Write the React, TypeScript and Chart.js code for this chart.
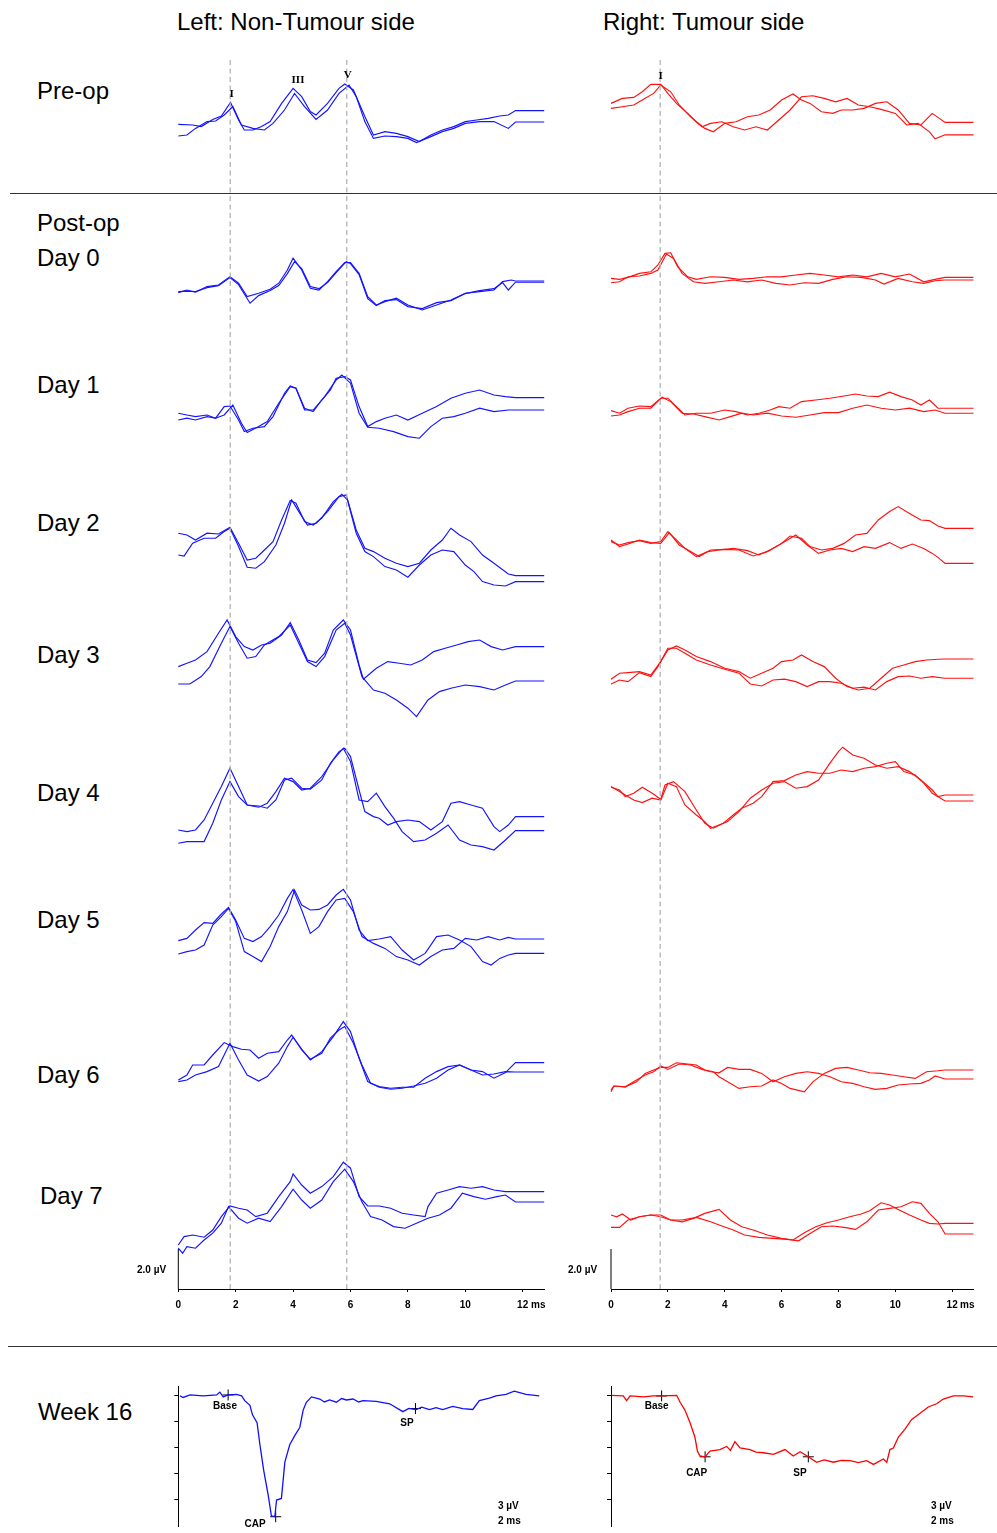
import React, { useEffect, useRef } from "react";
import { Chart, registerables } from "chart.js";
Chart.register(...registerables);

type Pair = [number, number];

// ---------- axes / common values ----------
const X_END = 12.75; // ms, end of the flat tail of every trace
const xTicks = [0, 2, 4, 6, 8, 10, 12];
const Y_MAX = 61.95; // µV (stacked rows, 0 at the time axis)
const DASH_TOP = 61.45;
const SCALE_UV = 2.0;
const leftPeakTimes = [1.81, 5.87]; // waves I and V
const rightPeakTimes = [1.73]; // wave I
const W_MIN = -15.1;
const W_MAX = 1.09;
const wTicks = [0, -3, -6, -9, -12];

// row baselines (µV offsets) : Pre-op, Day0..Day7
const leftBase: (number | null)[] = [58.25, 50.37, 43.62, 35.67, 32.12, 23.62, 17.5, 11.32, 4.87];
const rightBase: (number | null)[] = [58.33, 50.53, 43.92, 37.2, 31.12, 24.62, null, 10.78, 3.28];

// ---------- LEFT (non-tumour side) traces, [ms, µV] ----------
const LPreA: Pair[] = [[0,-0.02],[0.5,-0.05],[0.8,-0.13],[1.2,0.23],[1.5,0.4],[1.82,1.08],[2.1,0.2],[2.3,-0.3],[2.6,-0.3],[2.9,-0.13],[3.2,0.12],[3.6,1.03],[4.0,1.78],[4.3,1.37],[4.6,0.62],[4.8,0.45],[5.2,1.03],[5.6,1.78],[5.8,2.0],[6.1,1.7],[6.5,0.37],[6.8,-0.55],[7.2,-0.38],[7.6,-0.47],[8.0,-0.63],[8.4,-0.88],[8.8,-0.55],[9.2,-0.3],[9.6,-0.13],[10.0,0.12],[10.4,0.2],[10.8,0.28],[11.2,0.4],[11.5,0.45],[11.75,0.67]];
const LPreB: Pair[] = [[0,-0.6],[0.3,-0.55],[0.6,-0.22],[1.0,0.12],[1.3,0.15],[1.6,0.45],[1.9,0.87],[2.2,-0.05],[2.6,-0.22],[3.0,-0.3],[3.3,0.03],[3.7,0.7],[4.05,1.53],[4.4,0.87],[4.8,0.23],[5.2,0.7],[5.6,1.53],[5.95,1.95],[6.2,1.37],[6.5,0.12],[6.8,-0.72],[7.2,-0.6],[7.6,-0.63],[8.0,-0.72],[8.3,-0.93],[8.8,-0.63],[9.2,-0.38],[9.6,-0.22],[10.0,0.03],[10.5,0.12],[11.0,0.12],[11.5,-0.22],[11.75,0.1]];
const L0A: Pair[] = [[0,-0.55],[0.3,-0.42],[0.6,-0.53],[1.0,-0.25],[1.4,-0.17],[1.8,0.25],[2.1,-0.08],[2.4,-0.75],[2.8,-0.58],[3.2,-0.38],[3.5,-0.08],[3.8,0.58],[4.0,1.17],[4.3,0.58],[4.6,-0.33],[4.9,-0.42],[5.2,0],[5.5,0.5],[5.8,0.95],[6.0,0.95],[6.3,0.42],[6.6,-0.75],[6.9,-1.17],[7.2,-1.0],[7.6,-0.83],[8.0,-1.17],[8.5,-1.42],[9.0,-1.17],[9.5,-0.92],[10.0,-0.58],[10.5,-0.5],[11.0,-0.42],[11.3,0],[11.6,0.08],[11.75,0.03]];
const L0B: Pair[] = [[0,-0.5],[0.3,-0.48],[0.6,-0.5],[1.0,-0.3],[1.4,-0.2],[1.8,0.2],[2.1,-0.15],[2.5,-1.08],[2.8,-0.7],[3.2,-0.45],[3.5,-0.2],[3.8,0.4],[4.05,1.0],[4.3,0.65],[4.6,-0.25],[4.9,-0.35],[5.2,-0.05],[5.5,0.45],[5.85,1.0],[6.0,0.9],[6.3,0.35],[6.6,-0.85],[6.9,-1.2],[7.2,-0.95],[7.6,-0.9],[8.0,-1.25],[8.5,-1.35],[9.0,-1.05],[9.5,-0.95],[10.0,-0.6],[10.5,-0.45],[11.0,-0.35],[11.3,-0.05],[11.5,-0.42],[11.75,-0.03]];
const L1A: Pair[] = [[0,0.17],[0.3,0.08],[0.6,0],[1.0,0.08],[1.3,-0.08],[1.6,0.5],[1.8,0.53],[2.1,-0.17],[2.3,-0.75],[2.6,-0.58],[3.0,-0.5],[3.3,0],[3.7,1.17],[3.9,1.53],[4.1,1.42],[4.4,0.42],[4.7,0.25],[5.0,0.83],[5.3,1.33],[5.5,1.92],[5.8,2.0],[6.0,1.83],[6.3,0.5],[6.6,-0.5],[6.9,-0.25],[7.2,-0.08],[7.6,0.08],[8.0,-0.17],[8.5,0.17],[9.0,0.5],[9.5,0.92],[10.0,1.17],[10.5,1.33],[11.0,1.08],[11.4,1.0],[11.75,0.95]];
const L1B: Pair[] = [[0,-0.17],[0.3,-0.08],[0.6,-0.17],[1.0,0],[1.3,-0.08],[1.6,0.08],[1.9,0.58],[2.2,-0.33],[2.4,-0.8],[2.8,-0.5],[3.1,-0.25],[3.5,0.67],[3.9,1.5],[4.1,1.42],[4.4,0.33],[4.7,0.33],[5.1,1.0],[5.5,1.83],[5.7,2.08],[6.0,1.67],[6.3,0.17],[6.6,-0.53],[7.0,-0.58],[7.5,-0.75],[8.0,-1.0],[8.4,-1.08],[8.8,-0.5],[9.2,-0.08],[9.6,0],[10.0,0.17],[10.5,0.42],[11.0,0.25],[11.5,0.33],[11.75,0.33]];
const L2A: Pair[] = [[0,2.12],[0.3,2.03],[0.6,1.78],[1.0,2.12],[1.4,2.08],[1.8,2.42],[2.1,1.62],[2.4,0.78],[2.7,0.87],[3.0,1.28],[3.3,1.7],[3.6,2.78],[3.9,3.75],[4.1,3.62],[4.4,2.7],[4.7,2.53],[5.0,2.87],[5.4,3.7],[5.7,4.07],[5.9,3.78],[6.2,2.28],[6.5,1.37],[6.8,1.2],[7.2,0.87],[7.6,0.62],[8.0,0.45],[8.4,0.62],[8.8,1.28],[9.2,1.78],[9.5,2.37],[9.8,2.03],[10.2,1.7],[10.6,1.03],[11.0,0.62],[11.5,0.08],[11.75,0]];
const L2B: Pair[] = [[0,1.03],[0.2,0.98],[0.5,1.62],[0.9,1.87],[1.3,1.87],[1.6,2.2],[1.8,2.37],[2.1,1.45],[2.4,0.42],[2.7,0.37],[3.0,0.7],[3.4,1.53],[3.7,2.62],[3.95,3.78],[4.2,3.2],[4.5,2.53],[4.8,2.62],[5.2,3.2],[5.6,3.95],[5.85,4.03],[6.2,2.12],[6.5,1.2],[6.8,0.95],[7.2,0.45],[7.6,0.28],[8.0,-0.08],[8.4,0.53],[8.8,1.03],[9.2,1.28],[9.6,1.2],[10.0,0.53],[10.3,0.2],[10.6,-0.3],[11.0,-0.47],[11.4,-0.52],[11.75,-0.3]];
const L3A: Pair[] = [[0,-1.0],[0.3,-0.83],[0.6,-0.67],[1.0,-0.25],[1.4,0.67],[1.7,1.33],[2.0,0.5],[2.3,0],[2.6,-0.17],[2.9,0.08],[3.2,0.17],[3.6,0.58],[3.9,1.2],[4.2,0.33],[4.5,-0.67],[4.8,-0.8],[5.1,-0.33],[5.4,0.83],[5.75,1.33],[6.0,0.83],[6.3,-0.92],[6.45,-1.63],[6.9,-1.08],[7.3,-0.75],[7.7,-0.83],[8.1,-0.92],[8.5,-0.67],[8.9,-0.25],[9.3,-0.08],[9.7,0.08],[10.1,0.25],[10.5,0.33],[10.9,0],[11.3,-0.17],[11.75,0]];
const L3B: Pair[] = [[0,-1.87],[0.4,-1.87],[0.8,-1.5],[1.1,-1.0],[1.5,0.17],[1.8,1.0],[2.1,0.17],[2.4,-0.58],[2.7,-0.5],[3.0,0.08],[3.5,0.5],[3.9,1.08],[4.2,0.17],[4.5,-0.75],[4.8,-1.0],[5.1,-0.5],[5.5,0.83],[5.8,1.17],[6.0,0.58],[6.4,-1.5],[6.8,-2.17],[7.2,-2.33],[7.6,-2.67],[8.0,-3.08],[8.3,-3.5],[8.7,-2.67],[9.1,-2.25],[9.5,-2.08],[10.0,-1.92],[10.5,-2.0],[11.0,-2.17],[11.4,-1.92],[11.75,-1.72]];
const L4A: Pair[] = [[0,-0.67],[0.3,-0.75],[0.6,-0.67],[0.9,-0.17],[1.2,0.67],[1.5,1.5],[1.8,2.42],[2.1,1.5],[2.4,0.58],[2.8,0.53],[3.1,0.42],[3.4,0.83],[3.7,1.83],[3.95,1.92],[4.3,1.42],[4.6,1.37],[5.0,1.83],[5.3,2.67],[5.6,3.25],[5.8,3.42],[6.0,3.0],[6.3,1.33],[6.5,0.25],[6.8,0],[7.0,-0.08],[7.3,-0.42],[7.6,-0.25],[8.0,-0.17],[8.4,-0.25],[8.8,-0.67],[9.2,-0.25],[9.5,0.67],[9.8,0.75],[10.2,0.58],[10.6,0.42],[11.0,-0.5],[11.2,-0.75],[11.5,-0.42],[11.75,0]];
const L4B: Pair[] = [[0,-1.33],[0.3,-1.25],[0.6,-1.25],[0.9,-1.25],[1.2,-0.33],[1.5,0.83],[1.8,1.75],[2.1,1.0],[2.4,0.58],[2.8,0.47],[3.1,0.67],[3.4,1.25],[3.7,1.92],[4.0,1.75],[4.3,1.33],[4.6,1.42],[5.0,2.0],[5.4,2.83],[5.75,3.42],[6.0,2.75],[6.3,0.83],[6.6,0.75],[6.9,1.17],[7.2,0.5],[7.5,-0.08],[7.8,-0.75],[8.2,-1.25],[8.6,-1.17],[9.0,-0.83],[9.4,-0.42],[9.8,-1.17],[10.2,-1.42],[10.6,-1.5],[11.0,-1.67],[11.4,-1.17],[11.75,-0.7]];
const L5A: Pair[] = [[0,-0.08],[0.3,0.03],[0.6,0.45],[0.9,0.82],[1.2,0.78],[1.5,1.25],[1.75,1.58],[2.0,0.95],[2.3,0.03],[2.6,-0.13],[2.9,0.12],[3.2,0.62],[3.5,1.2],[3.8,2.03],[4.0,2.48],[4.3,1.45],[4.6,0.28],[4.9,0.62],[5.2,1.37],[5.5,1.95],[5.8,2.03],[6.1,1.37],[6.4,0.12],[6.8,-0.22],[7.2,-0.47],[7.6,-0.88],[8.0,-1.05],[8.4,-1.3],[8.8,-0.88],[9.2,-0.55],[9.6,-0.47],[10.0,0.03],[10.4,-0.05],[10.8,0.12],[11.2,-0.05],[11.5,0.08],[11.75,0]];
const L5B: Pair[] = [[0,-0.75],[0.3,-0.63],[0.6,-0.55],[0.9,-0.3],[1.2,0.7],[1.5,1.12],[1.75,1.53],[2.0,0.87],[2.3,-0.63],[2.6,-0.88],[2.9,-1.13],[3.2,-0.38],[3.5,0.62],[3.8,1.37],[4.05,2.45],[4.3,1.7],[4.6,1.45],[4.9,1.48],[5.2,1.7],[5.5,2.2],[5.75,2.48],[6.0,1.95],[6.3,0.45],[6.6,-0.08],[7.0,0],[7.4,0.12],[7.8,-0.55],[8.2,-1.05],[8.6,-0.72],[9.0,0.12],[9.4,0.2],[9.8,-0.05],[10.2,-0.38],[10.6,-1.13],[10.9,-1.3],[11.2,-0.97],[11.5,-0.8],[11.75,-0.72]];
const L6A: Pair[] = [[0,-0.87],[0.3,-0.62],[0.5,-0.12],[0.9,-0.12],[1.2,0.38],[1.6,1.0],[1.9,0.8],[2.2,0.67],[2.5,0.63],[2.8,0.22],[3.1,0.47],[3.5,0.55],[3.8,1.13],[3.95,1.38],[4.3,0.63],[4.6,0.17],[5.0,0.47],[5.3,1.22],[5.6,1.63],[5.8,1.8],[6.1,0.97],[6.4,-0.12],[6.7,-1.03],[7.0,-1.2],[7.4,-1.28],[7.8,-1.23],[8.2,-1.23],[8.6,-0.78],[9.0,-0.45],[9.4,-0.2],[9.8,-0.12],[10.2,-0.37],[10.6,-0.45],[11.0,-0.78],[11.4,-0.5],[11.75,0]];
const L6B: Pair[] = [[0,-0.95],[0.3,-0.87],[0.6,-0.62],[1.0,-0.45],[1.4,-0.2],[1.8,0.97],[2.1,0.13],[2.4,-0.62],[2.8,-0.92],[3.1,-0.7],[3.5,-0.03],[3.8,0.8],[4.0,1.27],[4.3,0.68],[4.6,0.13],[5.0,0.55],[5.4,1.3],[5.75,2.05],[6.0,1.55],[6.3,0.22],[6.6,-0.95],[7.0,-1.23],[7.4,-1.33],[7.8,-1.28],[8.2,-1.17],[8.6,-1.03],[9.0,-0.78],[9.4,-0.37],[9.8,-0.12],[10.2,-0.37],[10.6,-0.62],[11.0,-0.57],[11.4,-0.45],[11.75,-0.47]];
const L7A: Pair[] = [[0,-2.67],[0.2,-2.25],[0.5,-2.17],[0.9,-2.28],[1.2,-1.92],[1.5,-1.25],[1.8,-0.72],[2.1,-0.83],[2.4,-0.92],[2.7,-1.25],[3.1,-1.08],[3.5,-0.25],[3.9,0.5],[4.0,0.88],[4.3,0.33],[4.6,-0.08],[5.0,0.25],[5.4,0.75],[5.75,1.47],[6.0,1.17],[6.3,-0.25],[6.6,-0.72],[7.0,-0.72],[7.4,-0.83],[7.8,-1.08],[8.2,-1.17],[8.6,-1.25],[8.7,-0.75],[9.0,-0.08],[9.4,0.08],[9.8,0.25],[10.2,0.17],[10.6,0.25],[11.0,0.08],[11.4,0],[11.75,0]];
const L7B: Pair[] = [[0,-2.83],[0.15,-3.08],[0.3,-2.75],[0.6,-2.83],[0.9,-2.42],[1.2,-2.08],[1.5,-1.58],[1.75,-0.75],[2.1,-1.33],[2.4,-1.58],[2.8,-1.33],[3.2,-1.5],[3.6,-0.75],[4.0,0.12],[4.3,-0.42],[4.6,-0.83],[5.0,-0.42],[5.4,0.5],[5.8,1.12],[6.1,0.5],[6.4,-0.52],[6.7,-1.25],[7.1,-1.42],[7.5,-1.75],[7.9,-1.83],[8.3,-1.58],[8.7,-1.33],[9.1,-1.17],[9.5,-0.83],[9.9,-0.08],[10.3,-0.25],[10.7,-0.38],[11.1,-0.25],[11.4,-0.17],[11.75,-0.52]];

// ---------- RIGHT (tumour side) traces ----------
const RPreA: Pair[] = [[0,0.95],[0.4,1.2],[0.8,1.25],[1.1,1.53],[1.4,1.9],[1.75,1.9],[2.0,1.45],[2.3,0.95],[2.7,0.45],[3.0,0.03],[3.3,-0.3],[3.6,-0.47],[4.0,-0.05],[4.4,0.03],[4.8,0.28],[5.2,0.37],[5.6,0.62],[6.0,1.12],[6.4,1.42],[6.7,1.12],[7.0,0.95],[7.4,0.53],[7.8,0.45],[8.1,0.62],[8.5,0.62],[8.9,0.7],[9.3,0.95],[9.7,1.03],[10.1,0.62],[10.5,-0.05],[10.9,-0.13],[11.3,0.45],[11.55,0.2],[11.75,0]];
const RPreB: Pair[] = [[0,0.7],[0.4,0.78],[0.8,0.87],[1.1,1.12],[1.5,1.45],[1.75,1.87],[2.1,1.53],[2.4,0.87],[2.8,0.28],[3.2,-0.22],[3.5,-0.05],[3.9,0.03],[4.3,-0.22],[4.7,-0.38],[5.1,-0.22],[5.5,-0.38],[5.9,0.12],[6.3,0.62],[6.7,1.28],[7.1,1.33],[7.5,1.2],[7.9,1.03],[8.3,1.2],[8.7,0.87],[9.1,0.78],[9.5,0.65],[10.0,0.45],[10.4,-0.13],[10.8,-0.05],[11.2,-0.47],[11.4,-0.82],[11.75,-0.62]];
const R0A: Pair[] = [[0,0],[0.3,-0.05],[0.6,0.05],[1.0,0.25],[1.4,0.33],[1.65,0.67],[1.9,1.25],[2.1,1.28],[2.35,0.58],[2.7,0.08],[3.0,-0.05],[3.5,0.08],[4.0,0.05],[4.5,-0.05],[5.0,0],[5.5,0.08],[6.0,0.08],[6.5,0.17],[7.0,0.25],[7.5,0.17],[8.0,0.08],[8.5,0.17],[9.0,0.08],[9.5,0.25],[10.0,0.08],[10.5,0.22],[11.0,-0.17],[11.4,-0.05],[11.75,0.05]];
const R0B: Pair[] = [[0,-0.22],[0.3,-0.17],[0.6,0.08],[1.0,0.12],[1.4,0.25],[1.65,0.42],[1.95,1.22],[2.2,1.0],[2.5,0.25],[2.9,-0.17],[3.3,-0.25],[3.8,-0.17],[4.3,-0.08],[4.8,-0.17],[5.3,-0.08],[5.8,-0.25],[6.3,-0.33],[6.8,-0.22],[7.3,-0.25],[7.8,-0.05],[8.3,0.08],[8.8,0.05],[9.3,-0.08],[9.6,-0.28],[10.1,0],[10.6,-0.17],[11.0,-0.25],[11.4,-0.12],[11.75,-0.08]];
const R1A: Pair[] = [[0,0],[0.3,-0.13],[0.6,0.12],[1.0,0.23],[1.4,0.2],[1.75,0.62],[2.0,0.62],[2.3,0.2],[2.6,-0.22],[3.0,-0.13],[3.5,-0.13],[4.0,0.03],[4.4,-0.05],[4.8,-0.22],[5.2,-0.13],[5.6,0.03],[5.9,0.2],[6.3,0.12],[6.7,0.45],[7.2,0.53],[7.7,0.62],[8.2,0.73],[8.6,0.83],[9.0,0.73],[9.4,0.7],[9.8,0.92],[10.2,0.7],[10.6,0.53],[10.9,0.28],[11.2,0.53],[11.5,0.12],[11.75,0.12]];
const R1B: Pair[] = [[0,-0.27],[0.3,-0.22],[0.6,-0.05],[1.0,0.12],[1.4,0.12],[1.8,0.67],[2.1,0.45],[2.5,-0.13],[2.9,-0.17],[3.3,-0.3],[3.8,-0.47],[4.2,-0.3],[4.6,-0.13],[5.0,-0.22],[5.5,-0.13],[6.0,-0.27],[6.5,-0.33],[7.0,-0.22],[7.5,-0.1],[8.0,-0.1],[8.5,0.12],[9.0,0.28],[9.5,0.12],[10.0,0.03],[10.5,0.12],[11.0,-0.05],[11.4,0.03],[11.75,-0.13]];
const R2A: Pair[] = [[0,0.17],[0.3,0],[0.6,0.12],[1.0,0.22],[1.4,0.08],[1.75,0.17],[2.0,0.67],[2.3,0.25],[2.6,-0.17],[3.0,-0.58],[3.4,-0.33],[3.8,-0.25],[4.3,-0.17],[4.8,-0.28],[5.2,-0.5],[5.6,-0.25],[6.0,0.08],[6.3,0.45],[6.7,0.33],[7.0,-0.08],[7.4,-0.25],[7.8,-0.17],[8.2,0.08],[8.6,0.5],[9.0,0.58],[9.4,1.25],[9.8,1.67],[10.1,1.92],[10.5,1.58],[10.9,1.25],[11.2,1.22],[11.5,0.95],[11.75,0.83]];
const R2B: Pair[] = [[0,0.25],[0.3,-0.08],[0.6,0.05],[1.0,0.25],[1.4,0.12],[1.75,0.08],[2.05,0.62],[2.4,0],[2.8,-0.33],[3.1,-0.58],[3.5,-0.25],[4.0,-0.22],[4.5,-0.25],[5.0,-0.55],[5.5,-0.33],[6.0,0.08],[6.5,0.5],[6.9,0],[7.3,-0.42],[7.7,-0.25],[8.1,-0.17],[8.5,-0.33],[8.9,-0.08],[9.3,-0.17],[9.8,0.12],[10.2,-0.17],[10.6,0.05],[11.0,-0.17],[11.3,-0.42],[11.5,-0.62],[11.75,-0.92]];
const R3A: Pair[] = [[0,-0.63],[0.3,-0.33],[0.6,-0.3],[1.0,-0.25],[1.4,-0.42],[1.75,0.25],[2.0,0.83],[2.3,1.03],[2.6,0.83],[3.0,0.5],[3.5,0.25],[4.0,-0.08],[4.5,-0.25],[4.9,-0.58],[5.3,-0.33],[5.7,-0.08],[6.0,0.25],[6.4,0.33],[6.7,0.58],[7.1,0.25],[7.5,0],[7.9,-0.58],[8.3,-1.0],[8.7,-1.17],[9.1,-1.08],[9.5,-0.58],[9.9,-0.08],[10.3,0.08],[10.7,0.25],[11.1,0.33],[11.5,0.37],[11.75,0.38]];
const R3B: Pair[] = [[0,-0.87],[0.3,-0.67],[0.6,-0.75],[1.0,-0.3],[1.4,-0.5],[1.65,0],[2.0,0.92],[2.3,0.92],[2.6,0.67],[3.0,0.33],[3.5,0.08],[4.0,-0.13],[4.5,-0.33],[4.9,-0.87],[5.3,-0.97],[5.7,-0.67],[6.1,-0.63],[6.5,-0.75],[6.9,-1.0],[7.3,-0.75],[7.7,-0.75],[8.1,-0.83],[8.5,-1.08],[8.9,-1.03],[9.3,-1.17],[9.7,-0.75],[10.1,-0.5],[10.5,-0.47],[10.9,-0.58],[11.3,-0.5],[11.75,-0.58]];
const R4A: Pair[] = [[0,0.5],[0.3,0.25],[0.5,0.08],[0.8,-0.17],[1.1,-0.3],[1.45,-0.08],[1.75,-0.17],[2.0,0.67],[2.3,0.5],[2.6,-0.42],[3.0,-0.92],[3.3,-1.25],[3.5,-1.58],[3.8,-1.42],[4.1,-1.25],[4.5,-0.75],[4.9,-0.08],[5.3,0.33],[5.7,0.67],[6.1,0.75],[6.5,0.42],[6.9,0.5],[7.3,0.83],[7.7,1.67],[8.0,2.25],[8.15,2.47],[8.5,2.08],[8.9,1.92],[9.3,1.58],[9.7,1.42],[10.1,1.5],[10.5,1.25],[10.9,0.83],[11.3,0.33],[11.5,0],[11.75,0.08]];
const R4B: Pair[] = [[0,0.47],[0.3,0.33],[0.5,0],[0.8,0.17],[1.1,0.47],[1.45,0.17],[1.75,-0.13],[1.9,0.58],[2.2,0.75],[2.6,0.25],[3.0,-0.67],[3.3,-1.33],[3.6,-1.58],[3.95,-1.33],[4.3,-0.92],[4.6,-0.58],[5.0,-0.33],[5.3,0],[5.7,0.75],[6.1,0.8],[6.5,1.08],[6.9,1.25],[7.3,1.17],[7.7,1.17],[8.1,1.33],[8.5,1.25],[8.9,1.42],[9.3,1.5],[9.7,1.67],[10.0,1.75],[10.3,1.25],[10.7,1.08],[11.0,0.67],[11.3,0.17],[11.75,-0.22]];
const R6A: Pair[] = [[0,-0.83],[0.1,-0.63],[0.5,-0.67],[0.9,-0.42],[1.2,0],[1.5,0.17],[1.75,0.3],[2.0,0.3],[2.3,0.53],[2.7,0.47],[3.0,0.42],[3.3,0.17],[3.6,0.08],[3.8,-0.17],[4.1,-0.42],[4.5,-0.75],[4.9,-0.67],[5.3,-0.63],[5.7,-0.33],[6.0,-0.5],[6.3,-0.75],[6.8,-0.92],[7.1,-0.42],[7.5,0],[7.9,0.25],[8.3,0.3],[8.7,0.17],[9.1,0.03],[9.5,0],[9.9,-0.08],[10.3,-0.17],[10.7,-0.25],[11.1,0.08],[11.5,0.13],[11.75,0.17]];
const R6B: Pair[] = [[0,-0.92],[0.1,-0.63],[0.5,-0.67],[0.9,-0.33],[1.2,-0.08],[1.5,0.08],[1.75,0.37],[2.0,0.2],[2.4,0.47],[2.8,0.42],[3.2,0.2],[3.5,0.08],[3.8,0.03],[4.1,0.3],[4.5,0.2],[4.9,0.2],[5.3,0],[5.7,-0.42],[6.1,-0.17],[6.5,0],[6.9,0.08],[7.3,0],[7.7,-0.17],[8.1,-0.42],[8.5,-0.5],[8.9,-0.67],[9.3,-0.8],[9.7,-0.75],[10.1,-0.58],[10.5,-0.53],[10.9,-0.5],[11.2,-0.33],[11.4,-0.13],[11.75,-0.28]];
const R7A: Pair[] = [[0,0.42],[0.2,0.33],[0.4,0.47],[0.7,0.17],[1.0,0.33],[1.4,0.42],[1.75,0.42],[2.1,0.17],[2.5,0.08],[2.9,0.25],[3.3,0.5],[3.8,0.7],[4.2,0.17],[4.6,-0.17],[5.0,-0.33],[5.5,-0.58],[6.0,-0.75],[6.4,-0.83],[6.8,-0.47],[7.2,-0.17],[7.6,0.03],[8.0,0.17],[8.4,0.33],[8.8,0.47],[9.1,0.63],[9.5,1.03],[9.8,0.92],[10.1,0.7],[10.5,0.42],[10.9,0.17],[11.2,0],[11.5,-0.03],[11.75,0]];
const R7B: Pair[] = [[0,-0.2],[0.3,-0.2],[0.6,0.17],[1.0,0.33],[1.4,0.42],[1.75,0.33],[2.1,0.17],[2.5,0.17],[3.0,0.3],[3.5,0.08],[3.9,-0.13],[4.3,-0.33],[4.7,-0.58],[5.2,-0.7],[5.7,-0.75],[6.2,-0.8],[6.6,-0.87],[7.0,-0.5],[7.4,-0.17],[7.8,-0.13],[8.2,-0.2],[8.6,-0.3],[9.0,0.08],[9.4,0.67],[9.8,0.75],[10.2,0.83],[10.6,1.08],[10.9,1.0],[11.2,0.5],[11.5,0.08],[11.75,-0.53]];

// ---------- Week 16 (µV, ms) ----------
const W16L: Pair[] = [[0.06,0],[0.17,-0.18],[0.41,0.11],[0.87,0],[1.34,0.11],[1.45,0.44],[1.57,-0.11],[1.74,0.11],[2.03,0.18],[2.21,0],[2.32,-0.55],[2.5,-1.09],[2.59,-2.19],[2.75,-3.1],[2.85,-5.65],[2.98,-8.57],[3.14,-11.49],[3.25,-13.86],[3.37,-13.97],[3.43,-12.04],[3.6,-11.86],[3.72,-7.66],[3.89,-5.65],[4.07,-4.56],[4.24,-3.65],[4.36,-1.64],[4.47,-0.73],[4.65,-0.11],[4.94,-0.36],[5.1,-0.7],[5.28,-0.47],[5.52,-0.73],[5.7,-0.3],[5.87,-0.47],[6.1,-0.36],[6.3,-0.7],[6.45,-0.55],[6.91,-0.62],[7.38,-0.91],[7.84,-1.82],[8.05,-1.45],[8.3,-1.57],[8.5,-1.3],[8.77,-1.57],[9.0,-1.35],[9.23,-1.57],[9.58,-1.2],[9.93,-1.46],[10.28,-1.57],[10.51,-0.55],[10.86,-0.26],[11.09,0],[11.44,0.18],[11.73,0.55],[12.14,0.18],[12.6,0]];
const W16R: Pair[] = [[0.02,0.07],[0.43,0],[0.55,-0.55],[0.67,0],[1.14,-0.11],[1.49,0],[1.78,0],[2.31,0.07],[2.43,-0.73],[2.6,-1.64],[2.78,-3.1],[2.95,-4.75],[3.04,-6.39],[3.13,-6.94],[3.31,-7.04],[3.48,-6.39],[3.83,-6.2],[4.07,-5.84],[4.2,-6.3],[4.36,-5.29],[4.54,-6.02],[4.89,-6.2],[5.1,-6.5],[5.36,-6.57],[5.71,-6.75],[6.12,-6.2],[6.41,-6.94],[6.65,-6.46],[6.94,-7.04],[7.23,-7.67],[7.5,-7.4],[7.82,-7.67],[8.1,-7.45],[8.41,-7.48],[8.7,-7.7],[8.99,-7.48],[9.23,-7.92],[9.58,-7.3],[9.7,-7.67],[9.81,-6.2],[9.93,-6.02],[10.11,-4.75],[10.34,-3.83],[10.57,-2.74],[10.87,-2.01],[11.16,-1.28],[11.45,-0.91],[11.69,-0.36],[12.04,0],[12.39,0],[12.74,-0.11]];
const W16L_marks: Pair[] = [[1.74, 0.11], [3.4, -13.97], [8.28, -1.46]]; // Base, CAP, SP
const W16R_marks: Pair[] = [[1.78, 0], [3.31, -7.04], [6.94, -7.04]];

const leftRows: Pair[][][] = [[LPreA, LPreB], [L0A, L0B], [L1A, L1B], [L2A, L2B], [L3A, L3B], [L4A, L4B], [L5A, L5B], [L6A, L6B], [L7A, L7B]];
const rightRows: Pair[][][] = [[RPreA, RPreB], [R0A, R0B], [R1A, R1B], [R2A, R2B], [R3A, R3B], [R4A, R4B], [], [R6A, R6B], [R7A, R7B]];

const BLUE = "#1414ff";
const RED = "#ff1010";
const SANS = "'Liberation Sans', Arial, sans-serif";

function buildAbrDatasets(rows: Pair[][][], bases: (number | null)[], color: string, peaks: number[]) {
  const ds: any[] = [];
  peaks.forEach((t) => {
    ds.push({
      data: [{ x: t, y: 0 }, { x: t, y: DASH_TOP }],
      borderColor: "#b4b4b4",
      borderWidth: 1.3,
      borderDash: [5, 3.5],
      pointRadius: 0,
      clip: false,
    });
  });
  ds.push({
    data: [{ x: 0, y: 0 }, { x: 0, y: SCALE_UV }],
    borderColor: "#000",
    borderWidth: 1,
    pointRadius: 0,
    clip: false,
  });
  rows.forEach((pair, i) => {
    const b = bases[i];
    if (b == null) return;
    pair.forEach((tr) => {
      const pts = tr.map(([t, v]) => ({ x: t, y: b + v }));
      const last = tr[tr.length - 1];
      pts.push({ x: X_END, y: b + last[1] });
      ds.push({ data: pts, borderColor: color, borderWidth: 1.15, pointRadius: 0, tension: 0, clip: false });
    });
  });
  return ds;
}

function abrOptions(padL: number, padR: number): any {
  return {
    animation: false,
    responsive: false,
    maintainAspectRatio: false,
    events: [],
    layout: { padding: { left: padL, right: padR, top: 0, bottom: 6 } },
    plugins: { legend: { display: false }, tooltip: { enabled: false } },
    elements: { point: { radius: 0 }, line: { tension: 0 } },
    scales: {
      x: {
        type: "linear",
        min: 0,
        max: X_END,
        afterFit: (s: any) => { s.height = 25; },
        afterBuildTicks: (s: any) => { s.ticks = xTicks.map((v) => ({ value: v })); },
        border: { display: true, color: "#000", width: 1 },
        grid: { display: true, drawOnChartArea: false, drawTicks: true, tickLength: 3, color: "#000" },
        ticks: { autoSkip: false, maxRotation: 0, padding: 7, color: "#000", font: { family: SANS, size: 10, weight: "bold" } },
      },
      y: { type: "linear", display: false, min: 0, max: Y_MAX },
    },
  };
}

function w16Options(padL: number, padR: number): any {
  return {
    animation: false,
    responsive: false,
    maintainAspectRatio: false,
    events: [],
    layout: { padding: { left: padL, right: padR, top: 5, bottom: 0 } },
    plugins: { legend: { display: false }, tooltip: { enabled: false } },
    scales: {
      x: { type: "linear", display: false, min: 0, max: X_END },
      y: {
        type: "linear",
        position: "left",
        min: W_MIN,
        max: W_MAX,
        afterFit: (s: any) => { s.width = 10; },
        afterBuildTicks: (s: any) => { s.ticks = wTicks.map((v) => ({ value: v })); },
        border: { display: true, color: "#000", width: 1 },
        grid: { display: true, drawOnChartArea: false, drawTicks: true, tickLength: 4, color: "#000" },
        ticks: { display: false },
      },
    },
  };
}

function w16Datasets(trace: Pair[], marks: Pair[], color: string) {
  return [
    { type: "line", data: trace.map(([t, v]) => ({ x: t, y: v })), borderColor: color, borderWidth: 1.3, pointRadius: 0, tension: 0, clip: false },
    { type: "scatter", data: marks.map(([t, v]) => ({ x: t, y: v })), pointStyle: "cross", pointRadius: 5.5, borderColor: "#000", borderWidth: 1, backgroundColor: "#000", showLine: false, clip: false },
  ];
}

function ChartBox(props: { left: number; top: number; width: number; height: number; make: () => any }) {
  const ref = useRef<HTMLCanvasElement | null>(null);
  useEffect(() => {
    if (!ref.current) return;
    const chart = new Chart(ref.current, props.make());
    return () => chart.destroy();
  }, []);
  return (
    <canvas
      ref={ref}
      width={props.width}
      height={props.height}
      style={{ position: "absolute", left: props.left, top: props.top, width: props.width, height: props.height }}
    />
  );
}

const T = (p: { x: number; y: number; size?: number; bold?: boolean; serif?: boolean; center?: boolean; children: any }) => (
  <div
    style={{
      position: "absolute",
      left: p.x,
      top: p.y,
      fontFamily: p.serif ? "'Liberation Serif', 'Times New Roman', serif" : SANS,
      fontSize: p.size ?? 24,
      lineHeight: 1,
      fontWeight: p.bold ? "bold" : "normal",
      whiteSpace: "nowrap",
      color: "#000",
      transform: p.center ? "translateX(-50%)" : undefined,
      zIndex: 2,
    }}
  >
    {p.children}
  </div>
);

export default function App() {
  return (
    <div style={{ position: "absolute", left: 0, top: 0, width: 997, height: 1533, background: "#fff", overflow: "hidden" }}>
      <ChartBox left={150} top={50} width={410} height={1270}
        make={() => ({ type: "line", data: { datasets: buildAbrDatasets(leftRows, leftBase, BLUE, leftPeakTimes) }, options: abrOptions(28.3, 15.8) })} />
      <ChartBox left={580} top={50} width={410} height={1270}
        make={() => ({ type: "line", data: { datasets: buildAbrDatasets(rightRows, rightBase, RED, rightPeakTimes) }, options: abrOptions(31, 16.5) })} />
      <ChartBox left={160} top={1380} width={390} height={153}
        make={() => ({ type: "line", data: { datasets: w16Datasets(W16L, W16L_marks, "#1010ff") }, options: w16Options(8.3, 5.8) })} />
      <ChartBox left={590} top={1380} width={390} height={153}
        make={() => ({ type: "line", data: { datasets: w16Datasets(W16R, W16R_marks, "#ff0000") }, options: w16Options(11, 6.5) })} />

      <div style={{ position: "absolute", left: 10, top: 193, width: 987, borderTop: "1px solid #333" }} />
      <div style={{ position: "absolute", left: 8, top: 1346, width: 989, borderTop: "1px solid #333" }} />

      <T x={177} y={10}>Left: Non-Tumour side</T>
      <T x={603} y={10}>Right: Tumour side</T>
      <T x={37} y={79}>Pre-op</T>
      <T x={37} y={211}>Post-op</T>
      <T x={37} y={246}>Day 0</T>
      <T x={37} y={373}>Day 1</T>
      <T x={37} y={511}>Day 2</T>
      <T x={37} y={643}>Day 3</T>
      <T x={37} y={781}>Day 4</T>
      <T x={37} y={908}>Day 5</T>
      <T x={37} y={1063}>Day 6</T>
      <T x={40} y={1184}>Day 7</T>
      <T x={38} y={1400}>Week 16</T>

      <T x={231.7} y={88} size={11} bold serif center>I</T>
      <T x={298} y={74} size={11} bold serif center>III</T>
      <T x={347.7} y={69} size={11} bold serif center>V</T>
      <T x={660.7} y={70} size={11} bold serif center>I</T>

      <T x={137} y={1265} size={10} bold>2.0 µV</T>
      <T x={568} y={1265} size={10} bold>2.0 µV</T>
      <T x={531} y={1300} size={10} bold>ms</T>
      <T x={960} y={1300} size={10} bold>ms</T>

      <T x={225} y={1401} size={10} bold center>Base</T>
      <T x={255} y={1519} size={10} bold center>CAP</T>
      <T x={407} y={1418} size={10} bold center>SP</T>
      <T x={498} y={1501} size={10} bold>3 µV</T>
      <T x={498} y={1516} size={10} bold>2 ms</T>

      <T x={656.7} y={1401} size={10} bold center>Base</T>
      <T x={696.7} y={1468} size={10} bold center>CAP</T>
      <T x={800} y={1468} size={10} bold center>SP</T>
      <T x={931} y={1501} size={10} bold>3 µV</T>
      <T x={931} y={1516} size={10} bold>2 ms</T>
    </div>
  );
}
